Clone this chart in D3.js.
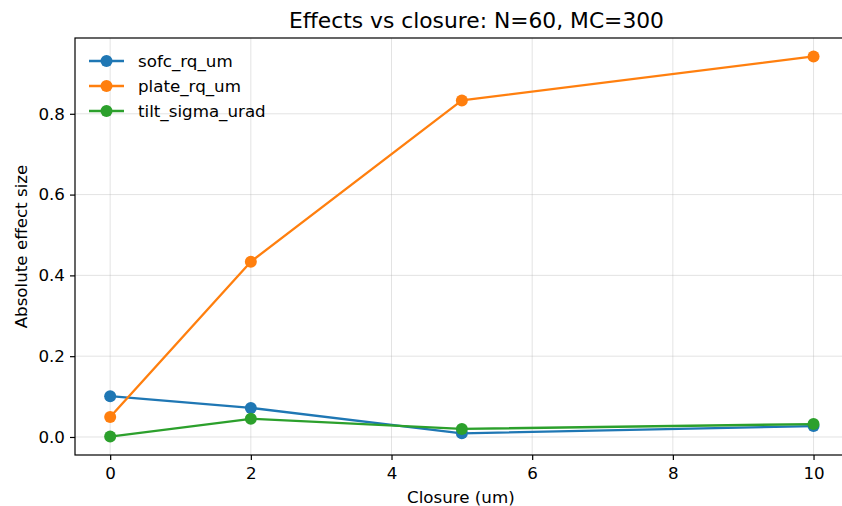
<!DOCTYPE html>
<html><head><meta charset="utf-8">
<script src="https://cdn.jsdelivr.net/npm/d3@7"></script>
<style>body{margin:0;background:#fff}svg{display:block;font-family:"DejaVu Sans",sans-serif}</style>
</head><body><svg id="c" width="842" height="506"></svg>
<script>
const closure = [0, 2, 5, 10];
const sofc_rq_um = [0.101, 0.072, 0.009, 0.027];
const plate_rq_um = [0.0495, 0.434, 0.833, 0.942];
const tilt_sigma_urad = [0.001, 0.045, 0.020, 0.032];
const seriesNames = ["sofc_rq_um", "plate_rq_um", "tilt_sigma_urad"];
const seriesColors = ["#1f77b4", "#ff7f0e", "#2ca02c"];
const xTicks = [0, 2, 4, 6, 8, 10];
const yTicks = [0.0, 0.2, 0.4, 0.6, 0.8];
const series = [sofc_rq_um, plate_rq_um, tilt_sigma_urad];

const svg = d3.select("#c");
const L = 75, R = 848.7, T = 38, B = 455;
const FS = 16.7;
const x = d3.scaleLinear().domain([-0.5, 10.5]).range([L, R]);
const y = d3.scaleLinear().domain([-0.0446, 0.9876]).range([B, T]);

// grid
const g = svg.append("g");
g.selectAll(".gx").data(xTicks).enter().append("line")
  .attr("x1", d => x(d)).attr("x2", d => x(d)).attr("y1", T).attr("y2", B)
  .attr("stroke", "#b0b0b0").attr("stroke-opacity", 0.35).attr("stroke-width", 1);
g.selectAll(".gy").data(yTicks).enter().append("line")
  .attr("x1", L).attr("x2", R).attr("y1", d => y(d)).attr("y2", d => y(d))
  .attr("stroke", "#b0b0b0").attr("stroke-opacity", 0.35).attr("stroke-width", 1);

// lines
const line = d3.line().x((d, i) => x(closure[i])).y(d => y(d));
series.forEach((s, k) => {
  svg.append("path").datum(s).attr("d", line).attr("fill", "none")
    .attr("stroke", seriesColors[k]).attr("stroke-width", 2.3).attr("stroke-linejoin", "round");
  svg.selectAll(".m" + k).data(s).enter().append("circle")
    .attr("cx", (d, i) => x(closure[i])).attr("cy", d => y(d)).attr("r", 6)
    .attr("fill", seriesColors[k]);
});

// axes
const xa = svg.append("g").attr("transform", `translate(0,${B})`)
  .call(d3.axisBottom(x).tickValues(xTicks).tickFormat(d3.format("d")).tickSize(5).tickPadding(7));
const ya = svg.append("g").attr("transform", `translate(${L},0)`)
  .call(d3.axisLeft(y).tickValues(yTicks).tickFormat(d3.format(".1f")).tickSize(5).tickPadding(5));
[xa, ya].forEach(a => {
  a.select(".domain").remove();
  a.selectAll("line").attr("stroke", "#000").attr("stroke-width", 1.2);
  a.selectAll("text").attr("font-size", FS).attr("fill", "#000").attr("font-family", "DejaVu Sans");
});
// spines
svg.append("rect").attr("x", L).attr("y", T).attr("width", R - L).attr("height", B - T)
  .attr("fill", "none").attr("stroke", "#000").attr("stroke-width", 1.2);

// labels
svg.append("text").attr("x", 476.5).attr("y", 28).attr("text-anchor", "middle")
  .attr("font-size", 21.8).text("Effects vs closure: N=60, MC=300");
svg.append("text").attr("x", (L + R) / 2 - 1).attr("y", 503).attr("text-anchor", "middle")
  .attr("font-size", FS).text("Closure (um)");
svg.append("text").attr("transform", `translate(27,${(T + B) / 2}) rotate(-90)`).attr("text-anchor", "middle")
  .attr("font-size", FS).text("Absolute effect size");

// legend
seriesNames.forEach((n, k) => {
  const yy = 61 + k * 25;
  svg.append("line").attr("x1", 89).attr("x2", 124).attr("y1", yy).attr("y2", yy)
    .attr("stroke", seriesColors[k]).attr("stroke-width", 2.3);
  svg.append("circle").attr("cx", 106.5).attr("cy", yy).attr("r", 6).attr("fill", seriesColors[k]);
  svg.append("text").attr("x", 138).attr("y", yy + 6).attr("font-size", FS).text(n);
});
</script></body></html>
